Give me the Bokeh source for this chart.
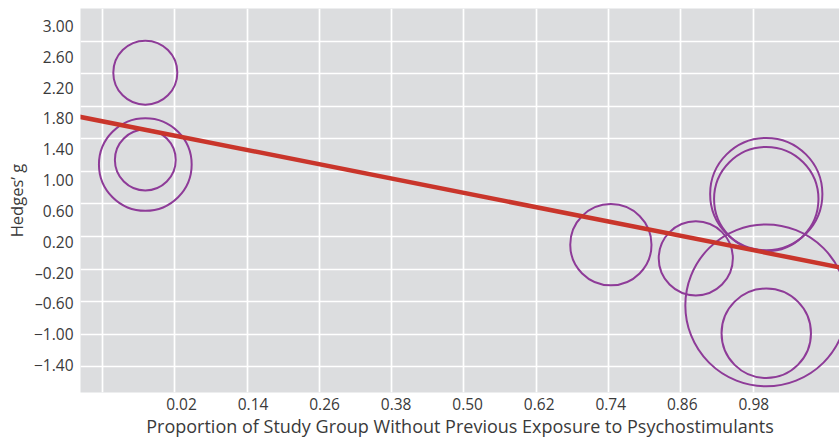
import math
from bokeh.plotting import figure
from bokeh.models import FixedTicker, Slope, Range1d, ColumnDataSource
from bokeh.embed import file_html
from bokeh.resources import INLINE

# ---- data ----
study_proportion = [-0.029, -0.029, -0.029, 0.744, 0.885, 1.002, 1.002, 1.002, 1.002]
hedges_g = [2.212, 1.084, 1.139, 0.099, -0.068, 0.721, 0.659, -0.646, -0.988]
study_weight = [41, 86, 37, 66, 55, 126, 109, 262, 80]

reg_intercept = 1.468
reg_slope = -1.465

x_grid_values = [-0.10, 0.02, 0.14, 0.26, 0.38, 0.50, 0.62, 0.74, 0.86, 0.98]
x_tick_values = [0.02, 0.14, 0.26, 0.38, 0.50, 0.62, 0.74, 0.86, 0.98]
x_tick_labels = ["0.02", "0.14", "0.26", "0.38", "0.50", "0.62", "0.74", "0.86", "0.98"]

y_tick_values = [-1.40, -1.00, -0.60, -0.20, 0.20, 0.60, 1.00, 1.40, 1.80, 2.20, 2.60, 3.00]
y_tick_labels = ["\u22121.40", "\u22121.00", "\u20130.60", "\u20130.20", "0.20", "0.60",
                 "1.00", "1.40", "1.80", "2.20", "2.60", "3.00"]

x_title = "Proportion of Study Group Without Previous Exposure to Psychostimulants"
y_title = "Hedges\u2019 g"

# The printed tick labels in the reference are spaced slightly differently from
# the grid; reproduce their layout with a linear placement of the labels.
x_lab_lo, x_lab_hi = 0.0311, 0.9813
y_lab_lo, y_lab_hi = -1.379, 2.785

def place(vals, lo, hi):
    v0, v1 = vals[0], vals[-1]
    return [round(lo + (v - v0) * (hi - lo) / (v1 - v0), 6) for v in vals]

x_label_pos = place(x_tick_values, x_lab_lo, x_lab_hi)
y_label_pos = place(y_tick_values, y_lab_lo, y_lab_hi)

PURPLE = "#8e3b98"
RED = "#c9352b"
BG = "#dcdddf"
TXT = "#3a3a3a"
FONT = "Open Sans"

p = figure(width=839, height=441,
           x_range=Range1d(-0.1366, 1.1236), y_range=Range1d(-1.716, 3.0),
           output_backend="svg", toolbar_location=None,
           min_border_left=80, min_border_right=0, min_border_top=8, min_border_bottom=49)
p.background_fill_color = BG
p.border_fill_color = "white"
p.outline_line_color = None

# axes
p.xaxis.ticker = FixedTicker(ticks=x_label_pos)
p.xaxis.major_label_overrides = {pos: lab for pos, lab in zip(x_label_pos, x_tick_labels)}
p.yaxis.ticker = FixedTicker(ticks=y_label_pos)
p.yaxis.major_label_overrides = {pos: lab for pos, lab in zip(y_label_pos, y_tick_labels)}

for ax in (p.xaxis, p.yaxis):
    ax.axis_line_color = None
    ax.major_tick_line_color = None
    ax.minor_tick_line_color = None
    ax.major_tick_out = 0
    ax.major_tick_in = 0
    ax.minor_tick_out = 0
    ax.minor_tick_in = 0
    ax.major_label_text_font = FONT
    ax.major_label_text_font_size = "15.5px"
    ax.major_label_text_color = TXT
    ax.axis_label_text_font = FONT
    ax.axis_label_text_font_style = "normal"
    ax.axis_label_text_color = TXT

p.xaxis.axis_label = x_title
p.yaxis.axis_label = y_title
p.xaxis.axis_label_text_font_size = "18px"
p.yaxis.axis_label_text_font_size = "16.5px"
p.xaxis.major_label_standoff = 5
p.xaxis.axis_label_standoff = 1
p.yaxis.major_label_standoff = 7
p.yaxis.axis_label_standoff = 3

# grid
p.xgrid.ticker = FixedTicker(ticks=x_grid_values)
p.ygrid.ticker = FixedTicker(ticks=y_tick_values)
p.grid.grid_line_color = "white"
p.grid.grid_line_width = 1.7

# bubbles
src = ColumnDataSource(dict(
    x=study_proportion,
    y=hedges_g,
    size=[10 * math.sqrt(w) for w in study_weight],
))
p.scatter("x", "y", size="size", source=src, marker="circle",
          fill_color=None, line_color=PURPLE, line_width=2)

# meta-regression line
p.add_layout(Slope(gradient=reg_slope, y_intercept=reg_intercept,
                   line_color=RED, line_width=4.5))

open("out.html", "w").write(file_html(p, INLINE))
